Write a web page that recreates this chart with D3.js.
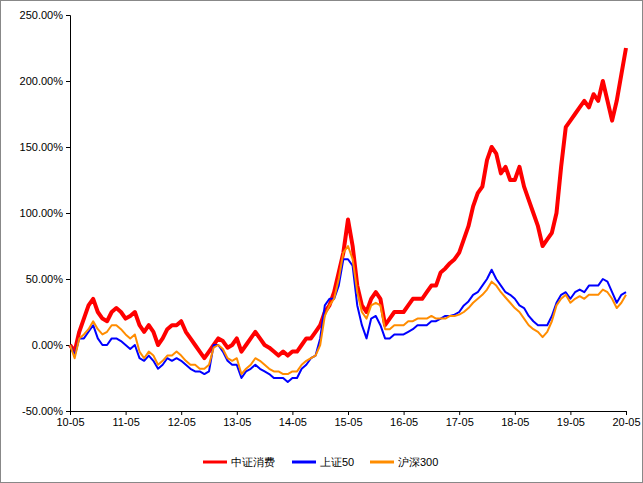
<!DOCTYPE html><html><head><meta charset="utf-8"><script src="https://cdn.jsdelivr.net/npm/d3@7"></script>
<style>body{margin:0;background:#fff}svg{font-family:"Liberation Sans",Arial,sans-serif}</style></head><body><svg id="c" width="643" height="483"></svg>
<script>
const xTicks=["10-05","11-05","12-05","13-05","14-05","15-05","16-05","17-05","18-05","19-05","20-05"];
const yTicks=[-50,0,50,100,150,200,250];
const seriesNames=["中证消费","上证50","沪深300"];
const colors=["#ff0000","#0000ff","#ff8c00"];
const consumer=[0,-5,10,20,30,35,25,20, 18,25,28,25,20,22,25,15,10,15,10,0, 5,12,15,15,18,10,5,0,-5,-10,-5,0, 5,3,-2,0,5,-5,0,5,10,5,0,-2, -5,-8,-5,-8,-5,-5,0,5,5,10,15,25, 30,40,55,70,95,75,45,30,25,35,40,35, 15,20,25,25,25,30,35,35,35,40,45,45, 55,58,62,65,70,80,90,105,115,120,140,150, 145,130,135,125,125,135,120,110,100,90,75,80, 85,100,135,165,170,175,180,185,180,190,185,200, 185,170,185,205,225];
const sz50=[0,-8,5,5,10,15,5,0, 0,5,5,3,0,-3,0,-10,-12,-8,-12,-18, -15,-10,-12,-10,-12,-15,-18,-20,-20,-22,-20,0, 0,-5,-12,-15,-15,-25,-20,-18,-15,-18,-20,-22, -25,-25,-25,-28,-25,-25,-18,-15,-10,-8,5,30, 35,35,45,65,65,60,30,15,5,20,22,15, 5,5,8,8,8,10,12,15,15,15,18,18, 20,22,22,23,25,30,33,38,40,45,50,57, 50,45,40,38,35,30,28,22,18,15,15,15, 22,32,38,40,35,40,42,40,45,45,45,50, 48,40,32,38,40];
const hs300=[0,-10,5,8,12,18,12,8, 10,15,15,12,8,5,8,-5,-10,-5,-8,-15, -12,-8,-8,-5,-8,-12,-15,-15,-18,-18,-15,-2, 0,-3,-10,-12,-10,-22,-18,-15,-10,-12,-15,-18, -20,-20,-22,-22,-20,-20,-15,-12,-10,-8,0,22, 30,35,50,70,75,65,40,25,20,30,32,30, 12,12,15,15,15,18,18,20,20,20,22,20, 20,20,22,22,23,25,28,32,35,38,42,48, 45,40,36,32,28,25,20,15,12,10,6,10, 18,30,35,38,32,35,37,35,38,38,38,42, 40,35,28,32,38];
const svg=d3.select("#c");
svg.append("rect").attr("x",0.5).attr("y",0.5).attr("width",642).attr("height",482).attr("fill","#fff").attr("stroke","#888");
const x=d3.scaleLinear().domain([0,120]).range([70,626]);
const y=d3.scaleLinear().domain([-50,250]).range([411,15]);
const ya=svg.append("g").attr("transform","translate(70,0)").call(d3.axisLeft(y).tickValues(yTicks).tickFormat(d=>d.toFixed(2)+"%").tickSize(4));
const xa=svg.append("g").attr("transform","translate(0,411)").call(d3.axisBottom(x).tickValues(d3.range(0,121,12)).tickFormat((d,i)=>xTicks[i]).tickSize(4));
[ya,xa].forEach(a=>{a.selectAll("path,line").attr("stroke","#000");a.selectAll("text").attr("font-size",11).attr("fill","#000");});
const line=d3.line().x((d,i)=>x(i)).y(d=>y(d));
[[consumer,4],[sz50,2],[hs300,2]].forEach(([data,w],k)=>{
 svg.append("path").datum(data).attr("d",line).attr("fill","none").attr("stroke",colors[k]).attr("stroke-width",w).attr("stroke-linejoin","round");
});
const lx=[203,292,370];
seriesNames.forEach((n,k)=>{
 svg.append("line").attr("x1",lx[k]).attr("x2",lx[k]+24).attr("y1",462).attr("y2",462).attr("stroke",colors[k]).attr("stroke-width",3);
 svg.append("text").attr("x",lx[k]+28).attr("y",466).attr("font-size",11).text(n);
});
</script></body></html>
